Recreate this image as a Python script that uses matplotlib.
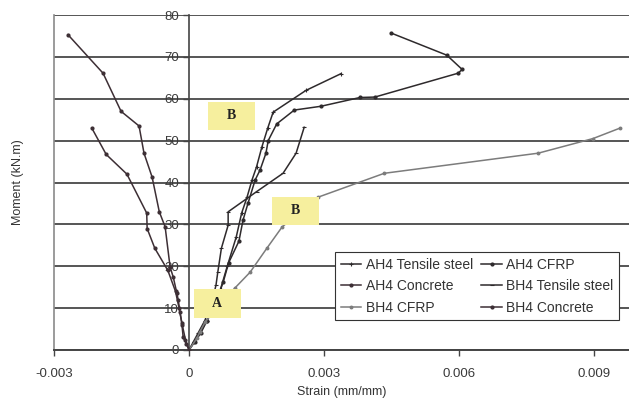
import matplotlib
matplotlib.use('Agg')
import matplotlib.pyplot as plt
from matplotlib.patches import Rectangle
from matplotlib.lines import Line2D

plt.rcParams['font.family'] = ['Liberation Sans', 'DejaVu Sans']

# ---------------- data (strain, moment) ----------------
ah4_steel_strain = [0, 0.00012, 0.00025, 0.0004, 0.00055, 0.0007, 0.00085, 0.00105, 0.00117,
                    0.00129, 0.0014, 0.0015, 0.00162, 0.00175, 0.00187, 0.0026, 0.00338]
ah4_steel_moment = [0, 2, 4.3, 7, 10.5, 14.5, 20, 27, 32.7, 36.5, 40.6, 43.7, 48.5, 53, 56.8, 62, 66]

ah4_cfrp_strain = [0, 0.00013, 0.00026, 0.0004, 0.00058, 0.00076, 0.00088, 0.00111, 0.0012, 0.00131,
                   0.00147, 0.00158, 0.00171, 0.00176, 0.00195, 0.00234, 0.00293, 0.0038, 0.00413,
                   0.00598, 0.00607, 0.00573, 0.00449]
ah4_cfrp_moment = [0, 2, 4, 7, 11, 16.2, 20.8, 26, 31, 35, 40.6, 43, 47, 50, 54, 57.3, 58.2, 60.3,
                   60.4, 66.1, 67, 70.4, 75.7]

ah4_conc_strain = [0, -0.00006, -0.00013, -0.00016, -0.0002, -0.00024, -0.00027, -0.00035, -0.00042,
                   -0.00053, -0.00066, -0.00082, -0.001, -0.00111, -0.00151, -0.00191, -0.00269]
ah4_conc_moment = [0, 1.5, 3.1, 6.4, 9, 12, 13.6, 17.4, 19.8, 29.4, 33, 41.3, 47, 53.5, 57, 66.1, 75.3]

bh4_steel_strain = [0, 0.0001, 0.0002, 0.00035, 0.0005, 0.0006, 0.00064, 0.00072, 0.00087, 0.00087,
                    0.0015, 0.00209, 0.00238, 0.00256]
bh4_steel_moment = [0, 2, 4, 7, 11, 15.5, 18.6, 24.3, 29.8, 33, 37.8, 42.2, 47, 53.2]

bh4_cfrp_strain = [0, 0.00018, 0.00024, 0.00036, 0.0007, 0.00102, 0.00136, 0.00173, 0.00207,
                   0.00287, 0.00434, 0.00776, 0.00898, 0.00958]
bh4_cfrp_moment = [0, 2.9, 4.3, 6.7, 11, 14.8, 18.6, 24.3, 29.4, 36.5, 42.2, 47, 50.5, 53]

bh4_conc_strain = [0, -0.00008, -0.00015, -0.00022, -0.0003, -0.00047, -0.00076, -0.00093,
                   -0.00094, -0.00138, -0.00184, -0.00216]
bh4_conc_moment = [0, 2.5, 6, 10, 14, 19, 24.3, 29, 32.7, 42, 46.7, 53]

series_names = ['AH4 Tensile steel', 'AH4 CFRP', 'AH4 Concrete',
                'BH4 Tensile steel', 'BH4 CFRP', 'BH4 Concrete']

x_ticks = [-0.003, 0, 0.003, 0.006, 0.009]
x_tick_labels = ['-0.003', '0', '0.003', '0.006', '0.009']
y_ticks = [0, 10, 20, 30, 40, 50, 60, 70, 80]
y_tick_labels = ['0', '10', '20', '30', '40', '50', '60', '70', '80']

note_labels = ['B', 'B', 'A']
note_x = [0.00094, 0.00236, 0.00063]
note_y = [55.9, 33.2, 11.1]

# ---------------- figure ----------------
fig = plt.figure(figsize=(6.29, 4.04), dpi=100)
ax = fig.add_axes([54 / 629, 54 / 404, 576 / 629, 335 / 404])
ax.set_xlim(-0.003, 0.0098)
ax.set_ylim(0, 80)

dark = '#2e2a2c'
conc = '#3d2f35'
grey = '#7c7c7c'

styles = [
    dict(color=dark, marker='+', ms=3.0, mew=0.8),
    dict(color=dark, marker='o', ms=2.0),
    dict(color=conc, marker='o', ms=2.0),
    dict(color=dark, marker='_', ms=3, mew=0.8),
    dict(color=grey, marker='o', ms=1.8),
    dict(color=conc, marker='o', ms=2.0),
]
data = [
    (ah4_steel_strain, ah4_steel_moment),
    (ah4_cfrp_strain, ah4_cfrp_moment),
    (ah4_conc_strain, ah4_conc_moment),
    (bh4_steel_strain, bh4_steel_moment),
    (bh4_cfrp_strain, bh4_cfrp_moment),
    (bh4_conc_strain, bh4_conc_moment),
]
handles = []
for (xs, ys), st, name in zip(data, styles, series_names):
    h, = ax.plot(xs, ys, lw=1.1, label=name, zorder=3, **st)
    handles.append(h)

# grid and axes
ax.yaxis.grid(True, color='#555555', lw=1.4)
ax.set_axisbelow(True)
for s in ['top', 'right']:
    ax.spines[s].set_visible(False)
ax.spines['left'].set_position(('data', 0))
ax.spines['left'].set_color('#444444')
ax.spines['left'].set_linewidth(1.2)
ax.spines['bottom'].set_color('#444444')
ax.spines['bottom'].set_linewidth(1.4)
# plot-area left border
ax.add_line(Line2D([0, 0], [0, 1], transform=ax.transAxes, color='#8a8a8a', lw=1.2, clip_on=False))

ax.set_xticks(x_ticks)
ax.set_xticklabels(x_tick_labels)
ax.set_yticks(y_ticks)
ax.set_yticklabels(y_tick_labels)
ax.tick_params(axis='both', direction='out', length=4, width=1, color='#444444',
               labelsize=9.5, labelcolor='#3a3a3a')
ax.tick_params(axis='y', pad=3)
ax.tick_params(axis='x', pad=9)

ax.set_xlabel('Strain (mm/mm)', fontsize=9, color='#333333', labelpad=4)
ax.set_ylabel('Moment (kN.m)', fontsize=9, color='#333333')
ax.yaxis.set_label_coords(-0.052, 0.5)

# annotation boxes
bw, bh = 0.00104, 6.7
for lab, nx, ny in zip(note_labels, note_x, note_y):
    ax.add_patch(Rectangle((nx - bw / 2, ny - bh / 2), bw, bh, facecolor='#f6ef9e',
                           edgecolor='none', zorder=5))
    ax.text(nx, ny, lab, ha='center', va='center', fontsize=10, fontweight='bold',
            family='Liberation Serif', color='#222222', zorder=6)

order = [0, 2, 4, 1, 3, 5]
leg = ax.legend([handles[i] for i in order], [series_names[i] for i in order],
                ncol=2, loc='upper left', bbox_to_anchor=(335 / 629, 1 - 252 / 404),
                bbox_transform=fig.transFigure, borderaxespad=0, fontsize=10,
                frameon=True, fancybox=False, framealpha=1, edgecolor='#333333',
                handlelength=1.5, handletextpad=0.3, columnspacing=0.6,
                labelspacing=0.55, borderpad=0.4)
leg.get_frame().set_linewidth(0.8)
leg.set_zorder(10)
for t in leg.get_texts():
    t.set_color('#333333')

fig.savefig('out.png', dpi=100)
